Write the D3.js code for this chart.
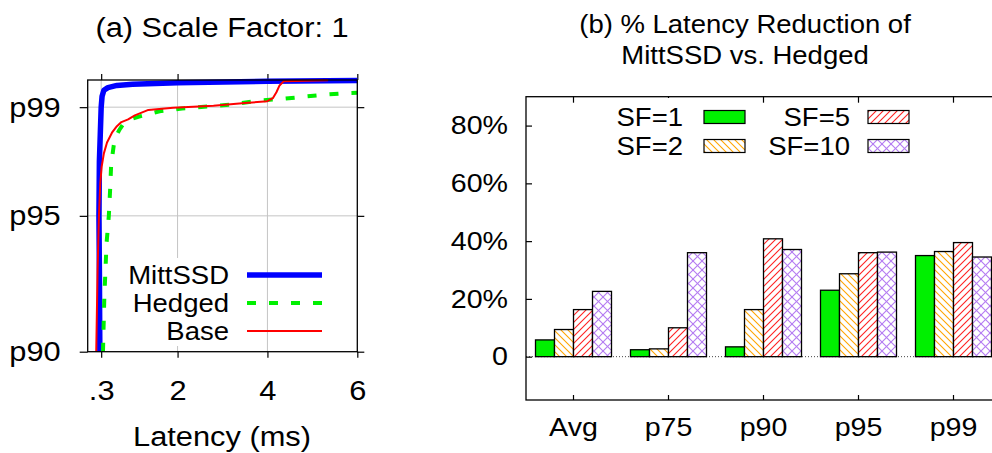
<!DOCTYPE html>
<meta charset="utf-8">
<style>
    body { margin: 0; background: #fff; }
    svg text { font-family: "Liberation Sans", Arial, Helvetica, sans-serif; fill: #000; }
    .axis path { display: none; }
    .axis line { stroke: #000; stroke-width: 1.2; }
    .grid { stroke: #c4c4c4; stroke-width: 1; }
</style>
<body>
<svg width="992" height="453"></svg>
<script src="https://cdn.jsdelivr.net/npm/d3@7"></script>
<script>
    // (a) latency CDF, points are [latency ms, percentile]
    var mittssd = [[0.27, 90], [0.26, 93], [0.25, 95], [0.26, 97], [0.28, 98], [0.30, 99], [0.32, 99.4],
        [0.36, 99.62], [0.45, 99.72], [0.65, 99.8], [1.0, 99.84], [2.0, 99.9], [4.0, 99.95], [6.0, 99.98]];
    var hedged = [[0.34, 90], [0.37, 92], [0.42, 94], [0.47, 95], [0.50, 96], [0.52, 96.8], [0.54, 97.1],
        [0.58, 97.6], [0.62, 97.9], [0.70, 98.15], [0.80, 98.4], [1.0, 98.58], [1.2, 98.68], [1.6, 98.85],
        [2.1, 98.95], [3.2, 99.1], [3.85, 99.25], [4.3, 99.3], [5.2, 99.45], [5.8, 99.52], [6.0, 99.53]];
    var base = [[0.19, 90], [0.22, 93], [0.25, 95], [0.28, 96.2], [0.31, 96.8], [0.36, 97.3], [0.43, 97.7],
        [0.54, 98.06], [0.65, 98.3], [0.75, 98.45], [0.9, 98.55], [1.05, 98.7], [1.2, 98.8], [1.35, 98.9],
        [1.9, 98.98], [2.8, 99.05], [3.5, 99.15], [4.0, 99.22], [4.12, 99.33], [4.2, 99.55], [4.27, 99.8],
        [4.36, 99.95], [5.35, 99.99]];
    var xTicksA = [0.3, 2, 4, 6], xLabelsA = [".3", "2", "4", "6"];
    var yTicksA = [90, 95, 99], yLabelsA = ["p90", "p95", "p99"];

    // (b) % latency reduction
    var groups = ["Avg", "p75", "p90", "p95", "p99"];
    var sfNames = ["SF=1", "SF=2", "SF=5", "SF=10"];
    var sf1 = [5.8, 2.4, 3.4, 23.0, 35.0];
    var sf2 = [9.4, 2.7, 16.3, 28.7, 36.4];
    var sf5 = [16.3, 10.0, 40.8, 36.0, 39.5];
    var sf10 = [22.6, 36.0, 37.1, 36.2, 34.5];
    var yTicksB = [0, 20, 40, 60, 80];

    var SX = 1.1; // the original looks a little wide
    var svg = d3.select("svg");

    function stretch(sel) {
        sel.each(function () {
            var t = d3.select(this);
            var x = +t.attr("x") || 0;
            t.attr("x", x / SX).attr("transform", "scale(" + SX + ",1)");
        });
    }

    function label(x, y, str, size, anchor) {
        var t = svg.append("g").attr("transform", "translate(" + x + "," + y + ")")
            .append("text").attr("text-anchor", anchor).style("font-size", size + "px").text(str);
        stretch(t);
        return t;
    }

    // ---------- (a) ----------
    var xA = d3.scaleLinear().domain([0, 6]).range([87.7, 357.3]);
    var yA = d3.scaleLinear().domain([90, 100]).range([351.7, 80]);

    var ga = svg.append("g");
    ga.selectAll(".gx").data(xTicksA.slice(0, 3)).enter().append("line")
        .attr("class", "grid")
        .attr("x1", d => xA(d)).attr("x2", d => xA(d))
        .attr("y1", yA(90)).attr("y2", yA(100));
    ga.selectAll(".gy").data(yTicksA.slice(1)).enter().append("line")
        .attr("class", "grid")
        .attr("x1", xA(0)).attr("x2", xA(6))
        .attr("y1", d => yA(d)).attr("y2", d => yA(d));

    var axB = ga.append("g").attr("class", "axis").attr("transform", "translate(0," + yA(90) + ")")
        .call(d3.axisBottom(xA).tickValues(xTicksA).tickFormat((d, i) => xLabelsA[i]).tickSize(6).tickPadding(22).tickSizeOuter(0));
    axB.selectAll("text").style("font-size", "28px").call(stretch);
    ga.append("g").attr("class", "axis").attr("transform", "translate(0," + yA(100) + ")")
        .call(d3.axisTop(xA).tickValues(xTicksA).tickFormat("").tickSize(6).tickSizeOuter(0));
    var axL = ga.append("g").attr("class", "axis").attr("transform", "translate(" + xA(0) + ",0)")
        .call(d3.axisLeft(yA).tickValues(yTicksA).tickFormat((d, i) => yLabelsA[i]).tickSize(8).tickPadding(19).tickSizeOuter(0));
    axL.selectAll("text").style("font-size", "28px").call(stretch);
    ga.append("g").attr("class", "axis").attr("transform", "translate(" + xA(6) + ",0)")
        .call(d3.axisRight(yA).tickValues(yTicksA).tickFormat("").tickSize(7).tickSizeOuter(0));

    // legend text boxes hide the grid behind them
    ga.append("rect").attr("x", 126).attr("y", 258).attr("width", 106).attr("height", 88).attr("fill", "#fff");

    var line = d3.line().x(d => xA(d[0])).y(d => yA(d[1]));
    var seriesA = [
        {name: "MittSSD", data: mittssd, color: "#0000ff", width: 5.5, dash: null},
        {name: "Hedged", data: hedged, color: "#00f000", width: 4, dash: "9,13"},
        {name: "Base", data: base, color: "#ff0000", width: 2, dash: null}
    ];
    seriesA.forEach(function (s, i) {
        ga.append("path").datum(s.data)
            .attr("d", line)
            .attr("fill", "none")
            .attr("stroke", s.color)
            .attr("stroke-width", s.width)
            .attr("stroke-dasharray", s.dash)
            .attr("stroke-linejoin", "round");
        var ly = 275 + i * 28;
        ga.append("line").attr("x1", 247).attr("x2", 322).attr("y1", ly).attr("y2", ly)
            .attr("stroke", s.color).attr("stroke-width", s.width).attr("stroke-dasharray", s.dash);
        label(229, ly + 9, s.name, 25, "end");
    });

    ga.append("rect").attr("x", xA(0)).attr("y", yA(100))
        .attr("width", xA(6) - xA(0)).attr("height", yA(90) - yA(100))
        .attr("fill", "none").attr("stroke", "#000").attr("stroke-width", 1.3);

    label(222, 37, "(a) Scale Factor: 1", 28, "middle");
    label(222, 446, "Latency (ms)", 28, "middle");

    // ---------- (b) ----------
    var defs = svg.append("defs");

    function hatch(id, color, w, h, paths) {
        var p = defs.append("pattern").attr("id", id)
            .attr("patternUnits", "userSpaceOnUse").attr("width", w).attr("height", h);
        p.append("rect").attr("width", w).attr("height", h).attr("fill", "#fff");
        paths.forEach(function (d) {
            p.append("path").attr("d", d).attr("stroke", color).attr("stroke-width", 1.1).attr("fill", "none");
        });
    }

    hatch("hsf2", "#ffa500", 7, 7, ["M0,0L7,7", "M-1,6L1,8", "M6,-1L8,1"]);
    hatch("hsf5", "#ff2020", 7, 7, ["M0,7L7,0", "M-1,1L1,-1", "M6,8L8,6"]);
    hatch("hsf10", "#b47af2", 9, 9, ["M0,0L9,9", "M-1,8L1,10", "M8,-1L10,1", "M0,9L9,0", "M-1,1L1,-1", "M8,10L10,8"]);
    var fills = ["#00f000", "url(#hsf2)", "url(#hsf5)", "url(#hsf10)"];
    var seriesB = [sf1, sf2, sf5, sf10];

    var xB = d3.scaleBand().domain(groups).range([526, 1001]).paddingInner(0.2).paddingOuter(0.1);
    var xSub = d3.scaleBand().domain(sfNames).range([0, xB.bandwidth()]);
    var yB = d3.scaleLinear().domain([-15, 90]).range([400, 96.7]);

    var gb = svg.append("g");
    gb.append("line").attr("x1", 526).attr("x2", 1001).attr("y1", yB(0)).attr("y2", yB(0))
        .attr("stroke", "#444").attr("stroke-width", 1).attr("stroke-dasharray", "1,2");

    var axBL = gb.append("g").attr("class", "axis").attr("transform", "translate(526,0)")
        .call(d3.axisLeft(yB).tickValues(yTicksB).tickFormat(d => d === 0 ? "0" : d + "%").tickSize(-6).tickPadding(18).tickSizeOuter(0));
    axBL.selectAll("text").style("font-size", "26px").call(stretch);
    var axBB = gb.append("g").attr("class", "axis").attr("transform", "translate(0,400)")
        .call(d3.axisBottom(xB).tickSize(-5).tickPadding(18).tickSizeOuter(0));
    axBB.selectAll("text").style("font-size", "26px").call(stretch);
    gb.append("g").attr("class", "axis").attr("transform", "translate(0,96.7)")
        .call(d3.axisTop(xB).tickFormat("").tickSize(-6).tickSizeOuter(0));

    seriesB.forEach(function (vals, j) {
        gb.selectAll(".bar" + j).data(vals).enter().append("rect")
            .attr("x", (d, i) => xB(groups[i]) + xSub(sfNames[j]))
            .attr("y", d => yB(d))
            .attr("width", xSub.bandwidth())
            .attr("height", d => yB(0) - yB(d))
            .attr("fill", fills[j])
            .attr("stroke", "#000")
            .attr("stroke-width", 1.3);
    });

    // legend
    var legPos = [[683, 704, 117], [683, 704, 146], [850, 868, 117], [850, 868, 146]];
    sfNames.forEach(function (n, j) {
        var p = legPos[j];
        var top = j % 2 === 0 ? 98 : p[2] - 14;
        gb.append("rect").attr("x", p[0] - 70).attr("y", top).attr("width", 72).attr("height", p[2] + 14 - top).attr("fill", "#fff");
        label(p[0], p[2] + 9, n, 25, "end");
        gb.append("rect").attr("x", p[1]).attr("y", p[2] - 6.5).attr("width", 41).attr("height", 13)
            .attr("fill", fills[j]).attr("stroke", "#000").attr("stroke-width", 1.2);
    });

    gb.append("rect").attr("x", 526).attr("y", 96.7).attr("width", 475).attr("height", 303.3)
        .attr("fill", "none").attr("stroke", "#000").attr("stroke-width", 1.3);

    label(745, 33, "(b) % Latency Reduction of", 25, "middle");
    label(745, 64, "MittSSD vs. Hedged", 25, "middle");
</script>
</body>
